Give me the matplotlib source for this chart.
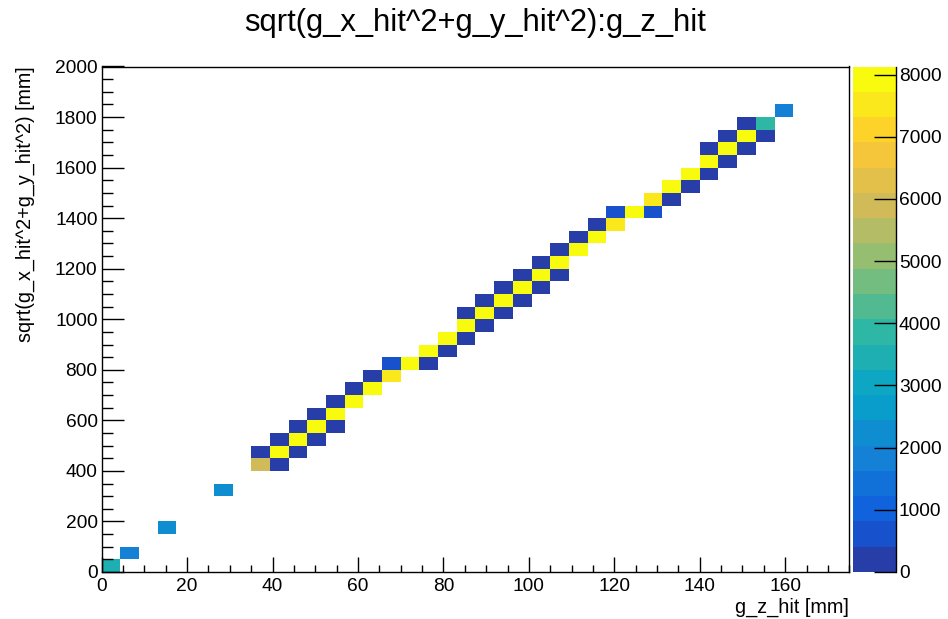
import numpy as np
import matplotlib
matplotlib.use("Agg")
import matplotlib.pyplot as plt
from matplotlib.colors import ListedColormap, BoundaryNorm, LinearSegmentedColormap
from matplotlib.ticker import MultipleLocator

plt.rcParams['font.family'] = ['Liberation Sans', 'DejaVu Sans']

# ---------------- data (TH2 bin numbers, 0-based, and contents) ----------------
x_range = (0.0, 175.0)
y_range = (0.0, 2000.0)
n_bins_x = 40
n_bins_y = 40

bin_ix = [0, 1, 3, 6,
          8, 9,
          8, 9, 10,
          9, 10, 11,
          10, 11, 12,
          11, 12,
          12, 13,
          13, 14,
          14, 15,
          15, 16, 17,
          17, 18,
          18, 19,
          19, 20,
          19, 20, 21,
          20, 21, 22,
          21, 22, 23,
          22, 23, 24,
          23, 24,
          24, 25,
          25, 26,
          26, 27,
          27, 28, 29,
          29, 30,
          30, 31,
          31, 32,
          32, 33,
          32, 33, 34,
          33, 34, 35,
          34, 35,
          36]
bin_iy = [0, 1, 3, 6,
          8, 8,
          9, 9, 9,
          10, 10, 10,
          11, 11, 11,
          12, 12,
          13, 13,
          14, 14,
          15, 15,
          16, 16, 16,
          17, 17,
          18, 18,
          19, 19,
          20, 20, 20,
          21, 21, 21,
          22, 22, 22,
          23, 23, 23,
          24, 24,
          25, 25,
          26, 26,
          27, 27,
          28, 28, 28,
          29, 29,
          30, 30,
          31, 31,
          32, 32,
          33, 33, 33,
          34, 34, 34,
          35, 35,
          36]
counts = [3450, 1800, 2300, 2300,
          6000, 210,
          230, 8020, 190,
          220, 8050, 200,
          210, 8010, 180,
          240, 8060,
          230, 8040,
          250, 8000,
          260, 7500,
          620, 7980, 150,
          8070, 220,
          8030, 240,
          7990, 230,
          160, 8080, 210,
          190, 8020, 220,
          200, 8050, 230,
          210, 8000, 190,
          240, 8130,
          250, 8040,
          230, 8010,
          260, 7550,
          650, 7960, 600,
          7450, 250,
          8060, 230,
          8020, 240,
          7990, 220,
          180, 8050, 200,
          210, 8000, 230,
          260, 3850,
          1800]

z_ticks = [0, 1000, 2000, 3000, 4000, 5000, 6000, 7000, 8000]

# ---------------- ROOT kBird palette, 20 contour levels ----------------
stops = [0.0, 0.125, 0.25, 0.375, 0.5, 0.625, 0.75, 0.875, 1.0]
red = [0.2082, 0.0592, 0.0780, 0.0232, 0.1802, 0.5301, 0.8186, 0.9956, 0.9764]
green = [0.1664, 0.3599, 0.5041, 0.6419, 0.7178, 0.7492, 0.7328, 0.7862, 0.9832]
blue = [0.5293, 0.8684, 0.8385, 0.7914, 0.6425, 0.4662, 0.3499, 0.1968, 0.0539]
bird = LinearSegmentedColormap('bird', {
    'red': [(s, c, c) for s, c in zip(stops, red)],
    'green': [(s, c, c) for s, c in zip(stops, green)],
    'blue': [(s, c, c) for s, c in zip(stops, blue)]}, N=255)
ndiv = 20
band_cols = [bird(min(int((k + 0.99) * 255 / ndiv), 254) / 254.0) for k in range(ndiv)]
cmap = ListedColormap(band_cols)
zmax = max(counts)
levels = np.linspace(0, zmax, ndiv + 1)
norm = BoundaryNorm(levels, ncolors=ndiv)

# ---------------- build histogram ----------------
x_edges = np.linspace(x_range[0], x_range[1], n_bins_x + 1)
y_edges = np.linspace(y_range[0], y_range[1], n_bins_y + 1)
xc = 0.5 * (x_edges[np.array(bin_ix)] + x_edges[np.array(bin_ix) + 1])
yc = 0.5 * (y_edges[np.array(bin_iy)] + y_edges[np.array(bin_iy) + 1])
H, _, _ = np.histogram2d(xc, yc, bins=[x_edges, y_edges], weights=counts)
Hm = np.ma.masked_where(H.T <= 0, H.T)

# ---------------- figure ----------------
W, Hpx = 948, 619
fig = plt.figure(figsize=(W / 100, Hpx / 100), dpi=100)
fig.patch.set_facecolor('white')

L, R, T, B = 101.7, 849.3, 66.5, 572.0
ax = fig.add_axes([L / W, 1 - B / Hpx, (R - L) / W, (B - T) / Hpx])
mesh = ax.pcolormesh(x_edges, y_edges, Hm, cmap=cmap, norm=norm,
                     edgecolors='none', antialiased=False)
ax.set_xlim(*x_range)
ax.set_ylim(*y_range)

fs = 13.8
ax.xaxis.set_major_locator(MultipleLocator(20))
ax.xaxis.set_minor_locator(MultipleLocator(5))
ax.yaxis.set_major_locator(MultipleLocator(200))
ax.yaxis.set_minor_locator(MultipleLocator(50))
ax.tick_params(axis='x', which='major', direction='in', length=10.8, width=1,
               labelsize=fs, pad=4, top=False, bottom=True)
ax.tick_params(axis='x', which='minor', direction='in', length=5.4, width=1,
               top=False, bottom=True)
ax.tick_params(axis='y', which='major', direction='in', length=16, width=1,
               labelsize=fs, pad=3, right=False, left=True)
ax.tick_params(axis='y', which='minor', direction='in', length=8, width=1,
               right=False, left=True)
for sp in ax.spines.values():
    sp.set_linewidth(1)
    sp.set_color('black')

# title & axis titles
fig.text(475 / W, 1 - 23 / Hpx, 'sqrt(g_x_hit^2+g_y_hit^2):g_z_hit',
         ha='center', va='center', fontsize=22.3)
fig.text(R / W, 1 - 607 / Hpx, 'g_z_hit [mm]', ha='right', va='center', fontsize=14.3)
fig.text(25 / W, 1 - T / Hpx, 'sqrt(g_x_hit^2+g_y_hit^2) [mm]', ha='center', va='top',
         rotation=90, fontsize=14.2)

# palette
cL, cR = 853.3, 896.0
cax = fig.add_axes([cL / W, 1 - B / Hpx, (cR - cL) / W, (B - T) / Hpx])
cb = fig.colorbar(mesh, cax=cax, ticks=z_ticks, spacing='proportional')
cb.outline.set_visible(False)
cax.yaxis.set_ticks_position('right')
cax.tick_params(axis='y', which='major', direction='in', length=16, width=1,
                labelsize=fs, pad=2)
cax.minorticks_off()
cax.plot([1, 1], [0, 1], transform=cax.transAxes, color='black', lw=1, clip_on=False)

fig.savefig('out.png', dpi=100, facecolor='white')
